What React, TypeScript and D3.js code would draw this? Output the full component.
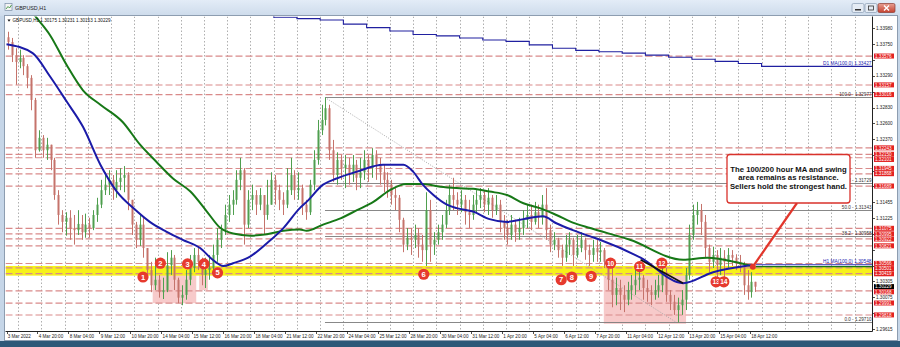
import React from "react";
import * as d3 from "d3";

// ---------- DATA ----------
// aggregated candles (4 hourly bars each), open = previous close
const firstOpen = 1.3385;
const closes = [
1.3378,1.3359,1.3349,1.3355,1.3343,1.3326,1.3294,1.3221,1.3239,1.3221,
1.3229,1.3207,1.3156,1.3127,1.3117,1.3123,1.3108,1.3105,1.3114,1.3102,
1.3113,1.3108,1.3127,1.3142,1.3163,1.3171,1.3178,1.3163,1.3175,1.3181,
1.3185,1.3149,1.3113,1.3091,1.3113,1.3079,1.3047,1.3025,1.3033,1.3015,
1.3018,1.3054,1.3065,1.3033,1.3007,1.3011,1.3033,1.3050,1.3069,1.3059,
1.3040,1.3047,1.3050,1.3069,1.3091,1.3105,1.3127,1.3142,1.3149,1.3178,
1.3192,1.3113,1.3149,1.3156,1.3142,1.3156,1.3127,1.3142,1.3178,1.3163,
1.3149,1.3142,1.3163,1.3185,1.3163,1.3166,1.3142,1.3131,1.3171,1.3207,
1.3250,1.3265,1.3282,1.3221,1.3185,1.3207,1.3195,1.3200,1.3185,1.3200,
1.3181,1.3189,1.3207,1.3195,1.3214,1.3200,1.3189,1.3178,1.3171,1.3156,
1.3152,1.3120,1.3084,1.3094,1.3091,1.3098,1.3084,1.3076,1.3134,1.3084,
1.3091,1.3102,1.3113,1.3134,1.3156,1.3149,1.3142,1.3149,1.3131,1.3127,
1.3142,1.3149,1.3156,1.3142,1.3152,1.3134,1.3142,1.3117,1.3108,1.3098,
1.3113,1.3102,1.3108,1.3120,1.3127,1.3117,1.3131,1.3123,1.3142,1.3105,
1.3084,1.3091,1.3076,1.3065,1.3084,1.3091,1.3069,1.3079,1.3091,1.3076,
1.3069,1.3079,1.3073,1.3076,1.3059,1.3033,1.3011,1.3021,1.3011,1.3004,
1.3018,1.3025,1.3033,1.3036,1.3021,1.3015,1.3011,1.3018,1.3025,1.3044,
1.3011,1.3001,1.2989,1.2996,1.3004,1.3040,1.3098,1.3127,1.3134,1.3117,
1.3079,1.3059,1.3069,1.3054,1.3065,1.3059,1.3069,1.3065,1.3059,1.3054,
1.3025,1.3015,1.3030,1.30229
];
const highs = [
1.3393,1.3384,1.3369,1.3367,1.3359,1.3346,1.3330,1.3297,1.3250,1.3243,
1.3239,1.3224,1.3210,1.3163,1.3134,1.3131,1.3134,1.3127,1.3134,1.3127,
1.3129,1.3123,1.3134,1.3152,1.3178,1.3189,1.3192,1.3185,1.3192,1.3195,
1.3198,1.3189,1.3149,1.3117,1.3127,1.3123,1.3076,1.3059,1.3065,1.3040,
1.3036,1.3073,1.3076,1.3069,1.3036,1.3025,1.3047,1.3069,1.3079,1.3079,
1.3065,1.3065,1.3069,1.3084,1.3108,1.3113,1.3142,1.3156,1.3163,1.3192,
1.3210,1.3195,1.3163,1.3171,1.3163,1.3166,1.3156,1.3178,1.3189,1.3185,
1.3171,1.3160,1.3195,1.3210,1.3192,1.3189,1.3171,1.3149,1.3178,1.3221,
1.3265,1.3287,1.32977,1.3287,1.3236,1.3218,1.3214,1.3214,1.3210,1.3214,
1.3207,1.3210,1.3221,1.3214,1.3224,1.3221,1.3210,1.3200,1.3189,1.3178,
1.3166,1.3156,1.3123,1.3108,1.3108,1.3113,1.3108,1.3098,1.3160,1.3149,
1.3102,1.3113,1.3127,1.3149,1.3171,1.3181,1.3160,1.3163,1.3156,1.3149,
1.3156,1.3163,1.3166,1.3163,1.3166,1.3156,1.3156,1.3149,1.3127,1.3120,
1.3127,1.3120,1.3123,1.3134,1.3142,1.3142,1.3146,1.3142,1.3156,1.3166,
1.3113,1.3102,1.3094,1.3084,1.3098,1.3102,1.3094,1.3098,1.3102,1.3094,
1.3084,1.3091,1.3091,1.3088,1.3079,1.3062,1.3054,1.3036,1.3033,1.3025,
1.3030,1.3040,1.3050,1.3053,1.3040,1.3033,1.3025,1.3033,1.3040,1.3057,
1.3050,1.3018,1.3011,1.3007,1.3018,1.3050,1.3113,1.3142,1.3146,1.3143,
1.3127,1.3084,1.3081,1.3076,1.3079,1.3076,1.3079,1.3076,1.3070,1.3069,
1.3059,1.3047,1.3044,1.30231
];
const lows = [
1.3367,1.3349,1.3316,1.3340,1.3330,1.3311,1.3279,1.3210,1.3219,1.3210,
1.3207,1.3192,1.3149,1.3113,1.3102,1.3097,1.3091,1.3084,1.3098,1.3091,
1.3094,1.3094,1.3105,1.3117,1.3137,1.3156,1.3156,1.3149,1.3152,1.3163,
1.3160,1.3134,1.3098,1.3079,1.3082,1.3065,1.3036,1.3015,1.3018,1.3007,
1.3005,1.3015,1.3040,1.3018,1.2999,1.2996,1.3004,1.3025,1.3044,1.3047,
1.3025,1.3021,1.3033,1.3044,1.3059,1.3079,1.3098,1.3117,1.3127,1.3142,
1.3163,1.3084,1.3108,1.3134,1.3127,1.3134,1.3098,1.3120,1.3149,1.3142,
1.3134,1.3127,1.3137,1.3156,1.3149,1.3149,1.3127,1.3120,1.3127,1.3163,
1.3200,1.3243,1.3257,1.3207,1.3175,1.3171,1.3178,1.3166,1.3171,1.3175,
1.3163,1.3166,1.3178,1.3175,1.3181,1.3178,1.3171,1.3160,1.3152,1.3142,
1.3134,1.3102,1.3073,1.3076,1.3069,1.3079,1.3065,1.3059,1.3053,1.3059,
1.3069,1.3084,1.3091,1.3108,1.3127,1.3134,1.3127,1.3131,1.3113,1.3108,
1.3120,1.3131,1.3137,1.3131,1.3127,1.3123,1.3127,1.3102,1.3091,1.3084,
1.3091,1.3088,1.3091,1.3098,1.3108,1.3105,1.3113,1.3108,1.3113,1.3091,
1.3073,1.3076,1.3065,1.3053,1.3059,1.3069,1.3053,1.3065,1.3073,1.3062,
1.3053,1.3059,1.3059,1.3059,1.3050,1.3018,1.2993,1.2996,1.2989,1.2986,
1.2996,1.3004,1.3011,1.3018,1.3004,1.3001,1.2996,1.3004,1.3007,1.3015,
1.3001,1.2989,1.2982,1.2971,1.2982,1.2989,1.3033,1.3091,1.3113,1.3098,
1.3065,1.3044,1.3050,1.3036,1.3040,1.3033,1.3050,1.3053,1.3047,1.3044,
1.3011,1.3004,1.3007,1.30153
];
const barsPerCandle = 4;

// hourly moving averages  [bar index, price]
const ma100 = [
[0,1.3375],[27,1.3362],[45,1.3328],[62,1.3292],[79,1.3255],[97,1.3200],[114,1.3161],[131,1.3137],
[148,1.3117],[165,1.3103],[182,1.3091],[200,1.3079],[213,1.3062],[224,1.3053],[234,1.3057],[252,1.3067],
[269,1.3086],[286,1.3108],[303,1.3137],[310,1.3146],[327,1.3171],[341,1.3180],[362,1.3190],[389,1.3200],
[410,1.3200],[420,1.3190],[430,1.3171],[441,1.3156],[455,1.3142],[465,1.3137],[482,1.3132],[499,1.3121],
[517,1.3117],[534,1.3121],[554,1.3125],[568,1.3115],[585,1.3105],[603,1.3096],[613,1.3091],[655,1.3065],
[699,1.3028],[730,1.3044],[763,1.3053],[773,1.30548]
];
const ma200 = [
[10,1.3454],[29,1.3417],[45,1.3388],[62,1.3345],[79,1.3308],[97,1.3287],[120,1.3262],[138,1.3229],
[155,1.3204],[172,1.3180],[190,1.3161],[207,1.3132],[221,1.3108],[234,1.3100],[252,1.3097],[269,1.3099],
[286,1.3104],[303,1.3106],[310,1.3104],[327,1.3113],[345,1.3122],[362,1.3134],[379,1.3146],[396,1.3163],
[413,1.3172],[430,1.3172],[448,1.3168],[465,1.3166],[482,1.3165],[499,1.3161],[517,1.3156],[534,1.3144],
[551,1.3137],[568,1.3127],[585,1.3116],[603,1.3108],[644,1.3091],[699,1.3062],[724,1.3065],[758,1.3057],[773,1.3052]
];
const blackLine = [[655,1.3062],[699,1.3028]];
// daily MA(100): one value per day (day index of the grid)
const d1Days = [10,11,12,13,14,15,16,17,18,19,20,21,22,23,24,25,26,27,28,29,30,31,32];
const d1Vals = [1.3430,1.3414,1.3412,1.3410,1.3404,1.3399,1.3394,1.3389,1.3387,1.3384,1.3381,1.3379,1.3374,1.3369,1.3366,1.3364,1.3362,1.3359,1.3356,1.3353,1.3350,1.3347,1.33427];
const d1Current = 1.33427;
const h1Current = 1.30548;

// support / resistance levels (red)
const srLevels = [1.33576,1.33157,1.33016,1.32243,1.32150,1.32101,1.31945,1.31868,1.31689,1.31075,1.30995,1.30922,1.30821,1.30566,1.30501,1.30419,1.30168,1.29991,1.29818];
// fibonacci retracement
const fibPct = ["100.0","61.8","50.0","38.2","0.0"];
const fibVals = [1.32977,1.31729,1.31343,1.30958,1.29710];
const fibStartBar = 329;
const fibEndBar = 692;
// swing zone
const zoneTop = 1.3053;
const zoneBottom = 1.3039;
// shaded boxes [barStart, barEnd, top, bottom]
const boxes = [[151,196,1.3043,1.2999],[199,208,1.3043,1.3018],[617,702,1.3047,1.2969]];
// numbered swing markers [bar, price]
const markers = [[141,1.3037],[159,1.3057],[187,1.3056],[204,1.3056],[218,1.3043],[431,1.3041],[573,1.3033],[584,1.3037],[604,1.3038],[624,1.3057],[654,1.3052],[677,1.3057],[733,1.3030],[741,1.3030]];
const arrowTip = [771,1.3052];

const priceTicks = [1.33980,1.33750,1.33520,1.33290,1.33060,1.32830,1.32600,1.32370,1.32145,1.31915,1.31685,1.31455,1.31225,1.30995,1.30765,1.30535,1.30305,1.30075,1.29845,1.29615];
const timeLabels = ["3 Mar 2022","4 Mar 20:00","8 Mar 04:00","9 Mar 12:00","10 Mar 20:00","14 Mar 04:00","15 Mar 12:00","16 Mar 20:00","18 Mar 04:00","21 Mar 12:00","22 Mar 20:00","24 Mar 04:00","25 Mar 12:00","28 Mar 20:00","30 Mar 04:00","31 Mar 12:00","1 Apr 20:00","5 Apr 04:00","6 Apr 12:00","7 Apr 20:00","11 Apr 04:00","12 Apr 12:00","13 Apr 20:00","15 Apr 04:00","18 Apr 12:00"];
const barsPerLabel = 32;
const barsPerDay = 24;
const firstDayBar = 12;
const lastQuote = ["1.30175","1.30231","1.30153","1.30229"];
const noteLines = ["The 100/200 hour MA and swing","area remains as resistance.","Sellers hold the strongest hand."];

const FONT = "'Liberation Sans', Arial, sans-serif";
const AX = 4.6; // axis font size

export default function App() {
  const L = 5.5, T = 16.5, R = 872.5, B = 331.5;
  const x = d3.scaleLinear().domain([0, 895]).range([6.5, 872.9]);
  const y = d3.scaleLinear().domain([1.29615, 1.3398]).range([329, 28.3]);
  const fmt = d3.format(".5f");

  const candles = closes.map((c, i) => {
    const o = i === 0 ? firstOpen : closes[i - 1];
    return { i, o, c, h: Math.max(highs[i], o, c), l: Math.min(lows[i], o, c) };
  });

  const maLine = d3.line<number[]>().x(d => x(d[0])).y(d => y(d[1])).curve(d3.curveMonotoneX);
  const d1Pts: number[][] = d1Days.map((d, i) => [firstDayBar + barsPerDay * d, d1Vals[i]]);
  d1Pts.push([895, d1Vals[d1Vals.length - 1]]);
  const stepLine = d3.line<number[]>().x(d => x(d[0])).y(d => y(d[1])).curve(d3.curveStepAfter);

  const gridBars = d3.range(firstDayBar, 895, barsPerDay);
  const lastBar = closes.length * barsPerCandle - 2;
  const lastClose = closes[closes.length - 1];

  // axis price labels: red S/R tags plus the black last-price tag, nudged so they do not overlap
  const tags = [...srLevels.map(v => ({ v, black: false })), { v: lastClose, black: true }]
    .map(t => ({ ...t, ty: y(t.v) }))
    .sort((a, b) => a.ty - b.ty);
  const TAG_H = 5.2;
  for (let i = 1; i < tags.length; i++) {
    if (tags[i].ty - tags[i - 1].ty < TAG_H) tags[i].ty = tags[i - 1].ty + TAG_H;
  }
  const visibleTicks = priceTicks.filter(v => tags.every(t => Math.abs(t.ty - y(v)) > 5));

  const ax = x(arrowTip[0]), ay = y(arrowTip[1]);

  return (
    <svg width={900} height={347} style={{ position: "fixed", left: 0, top: 0, display: "block" }} fontFamily={FONT}>
      <defs>
        <linearGradient id="tb" x1="0" y1="0" x2="0" y2="1">
          <stop offset="0" stopColor="#e3ecf7" />
          <stop offset="1" stopColor="#cddbeb" />
        </linearGradient>
        <linearGradient id="cls" x1="0" y1="0" x2="0" y2="1">
          <stop offset="0" stopColor="#e8a093" />
          <stop offset="1" stopColor="#c4402e" />
        </linearGradient>
        <clipPath id="plot"><rect x={L} y={T} width={R - L} height={B - T} /></clipPath>
      </defs>
      {/* window frame */}
      <rect x={0} y={0} width={900} height={347} fill="#c6d6e8" />
      <rect x={0} y={0} width={900} height={16} fill="url(#tb)" />
      <rect x={0} y={341} width={900} height={6} fill="#2d5878" />
      <rect x={5} y={3.5} width={7} height={7} fill="#f4f4f4" stroke="#7a8ea6" strokeWidth={0.7} />
      <path d="M6,9 L8,6.5 L9.5,8 L11.5,5" fill="none" stroke="#2b8a2b" strokeWidth={0.8} />
      <text x={15} y={9.8} fontSize={5.4} fill="#1e1e1e">GBPUSD,H1</text>
      <rect x={852} y={3.5} width={12} height={9} rx={1.5} fill="#e4ebf4" stroke="#8a9cb3" strokeWidth={0.7} />
      <rect x={855} y={9} width={6} height={1.5} fill="#333" />
      <rect x={865} y={3.5} width={12} height={9} rx={1.5} fill="#e4ebf4" stroke="#8a9cb3" strokeWidth={0.7} />
      <rect x={868.5} y={6} width={5} height={4} fill="none" stroke="#333" strokeWidth={0.8} />
      <rect x={878} y={3.5} width={17} height={9} rx={1.5} fill="url(#cls)" stroke="#8a3a30" strokeWidth={0.7} />
      <path d="M884,5.5 L889,10.5 M889,5.5 L884,10.5" stroke="#fff" strokeWidth={1.4} />

      {/* chart window */}
      <rect x={4.5} y={15.5} width={893} height={325} fill="#ffffff" stroke="#8d9db0" strokeWidth={1} />

      <g clipPath="url(#plot)">
        {/* vertical grid */}
        {gridBars.map(b => (
          <line key={b} x1={Math.round(x(b)) + 0.5} x2={Math.round(x(b)) + 0.5} y1={T} y2={B} stroke="#9a9a9a" strokeWidth={0.8} strokeDasharray="1.5,2" />
        ))}
        {/* shaded boxes */}
        {boxes.map((b, i) => (
          <rect key={i} x={x(b[0])} y={y(b[2])} width={x(b[1]) - x(b[0])} height={y(b[3]) - y(b[2])} fill="#f7caca" />
        ))}
        {/* swing zone */}
        <rect x={L} y={y(zoneTop)} width={R - L} height={y(zoneBottom) - y(zoneTop)} fill="#f6f21a" />
        {/* S/R lines */}
        {srLevels.map(v => (
          <line key={v} x1={L} x2={R} y1={y(v)} y2={y(v)} stroke="#d98a8a" strokeWidth={1.2} strokeDasharray="7,3" />
        ))}
        {/* fib */}
        {fibVals.map(v => (
          <line key={v} x1={x(fibStartBar)} x2={R} y1={Math.round(y(v)) + 0.5} y2={Math.round(y(v)) + 0.5} stroke="#7a7a7a" strokeWidth={0.9} />
        ))}
        <line x1={x(fibStartBar)} y1={y(fibVals[0])} x2={x(fibEndBar)} y2={y(fibVals[4])} stroke="#a0a0a0" strokeWidth={0.9} strokeDasharray="1,1.5" />
        {/* daily MA */}
        <path d={stepLine(d1Pts) || ""} fill="none" stroke="#2020a0" strokeWidth={1.1} />
        {/* candles */}
        {candles.map(d => {
          const cx = Math.round(x(d.i * barsPerCandle + 1.5)) + 0.5;
          const up = d.c >= d.o;
          const col = up ? "#4f9f4f" : "#c5736b";
          const top = y(Math.max(d.o, d.c)), bot = y(Math.min(d.o, d.c));
          return (
            <g key={d.i}>
              <line x1={cx} x2={cx} y1={y(d.h)} y2={y(d.l)} stroke={col} strokeWidth={1} />
              <rect x={cx - 1} y={top} width={2} height={Math.max(1, bot - top)} fill={col} />
            </g>
          );
        })}
        {/* hourly MAs */}
        <path d={maLine(ma200 as number[][]) || ""} fill="none" stroke="#177817" strokeWidth={2} />
        <path d={maLine(ma100 as number[][]) || ""} fill="none" stroke="#1b1ba8" strokeWidth={2} />
        <path d={maLine(blackLine as number[][]) || ""} fill="none" stroke="#111" strokeWidth={1.6} />
        <line x1={x(lastBar)} x2={R} y1={y(h1Current)} y2={y(h1Current)} stroke="#2a2ab0" strokeWidth={1.1} />
        <line x1={x(lastBar)} x2={R} y1={y(ma200[ma200.length - 1][1])} y2={y(ma200[ma200.length - 1][1])} stroke="#177817" strokeWidth={1.4} />
        {/* markers */}
        {markers.map((m, i) => (
          <g key={i}>
            <circle cx={x(m[0])} cy={y(m[1])} r={5.6} fill="#e63a2e" />
            <text x={x(m[0])} y={y(m[1]) + 2.6} fontSize={i >= 9 ? 6.6 : 7.6} fontWeight="bold" fill="#fff" textAnchor="middle">{i + 1}</text>
          </g>
        ))}
        {/* arrow */}
        <line x1={797} y1={203} x2={ax} y2={ay} stroke="#e2362b" strokeWidth={2.2} />
        <circle cx={ax} cy={ay} r={3} fill="#e2362b" />
      </g>

      {/* object labels */}
      {fibVals.map((v, i) => (
        <text key={v} x={871.5} y={y(v) - 1.3} fontSize={AX} fill="#333" textAnchor="end">{fibPct[i] + " - " + fmt(v)}</text>
      ))}
      <text x={871.5} y={y(d1Current) - 1.3} fontSize={AX + 0.2} fill="#2424b0" textAnchor="end">{"D1 MA(100,0) " + fmt(d1Current)}</text>
      <text x={871.5} y={y(h1Current) - 1.3} fontSize={AX + 0.2} fill="#2424b0" textAnchor="end">{"H1 MA(100,0) " + fmt(h1Current)}</text>

      {/* note box */}
      <rect x={727} y={154.5} width={123} height={48.5} rx={3} fill="#fff" stroke="#d9322b" strokeWidth={1.3} />
      {noteLines.map((t, i) => (
        <text key={i} x={788.5} y={172 + i * 8.4} fontSize={7.7} fontWeight="bold" fill="#111" textAnchor="middle">{t}</text>
      ))}

      {/* axes */}
      <line x1={R} x2={R} y1={T} y2={B} stroke="#222" strokeWidth={1} />
      <line x1={L} x2={R} y1={B} y2={B} stroke="#222" strokeWidth={1} />
      {priceTicks.map(v => (
        <line key={v} x1={R} x2={R + 2.5} y1={Math.round(y(v)) + 0.5} y2={Math.round(y(v)) + 0.5} stroke="#222" strokeWidth={0.8} />
      ))}
      {visibleTicks.map(v => (
        <text key={v} x={876} y={y(v) + 1.6} fontSize={AX} fill="#222">{fmt(v)}</text>
      ))}
      {tags.map(t => (
        <g key={t.v}>
          <rect x={874} y={t.ty - TAG_H / 2} width={20} height={TAG_H - 0.2} fill={t.black ? "#000" : "#e32222"} />
          <text x={875} y={t.ty + 1.6} fontSize={AX} fill="#fff">{fmt(t.v)}</text>
        </g>
      ))}

      {timeLabels.map((t, i) => (
        <g key={t}>
          <line x1={Math.round(x(i * barsPerLabel)) + 0.5} x2={Math.round(x(i * barsPerLabel)) + 0.5} y1={B} y2={B + 2.5} stroke="#222" strokeWidth={0.8} />
          <text x={x(i * barsPerLabel) + 1.2} y={337.5} fontSize={AX} fill="#222">{t}</text>
        </g>
      ))}

      {/* chart caption */}
      <path d="M7.5,19.5 L10.5,19.5 L9,21.8 Z" fill="#111" />
      <text x={12.5} y={22.3} fontSize={AX} fill="#111">{"GBPUSD,H1  " + lastQuote.join(" ")}</text>
    </svg>
  );
}
